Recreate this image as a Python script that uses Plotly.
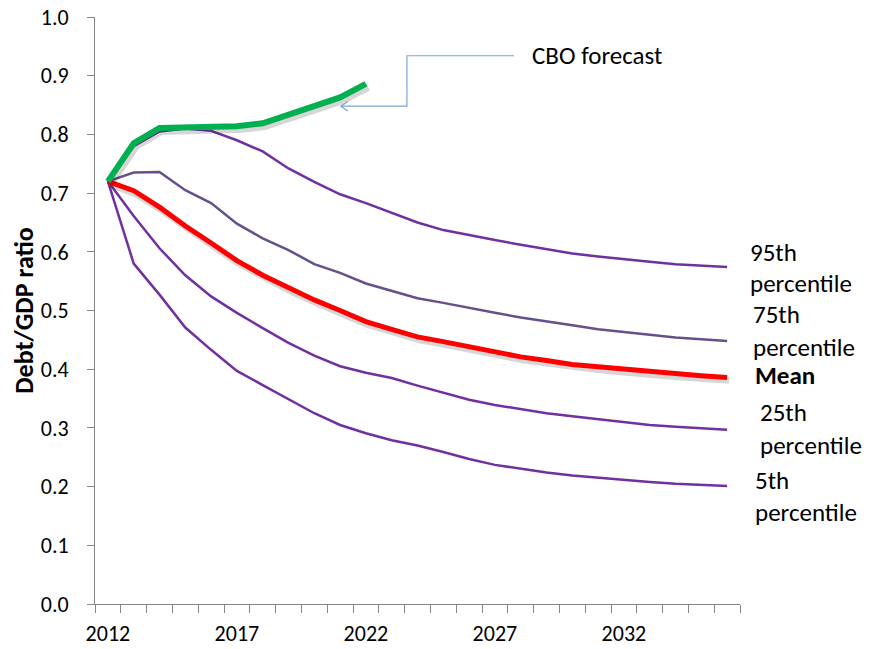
import plotly.graph_objects as go

years = list(range(2012, 2037))
label_years = [2012, 2017, 2022, 2027, 2032]

cbo_forecast = [0.720, 0.785, 0.811, 0.812, 0.812, 0.814, 0.819, 0.833, 0.847, 0.863, 0.886]
p95 = [0.720, 0.780, 0.805, 0.810, 0.806, 0.790, 0.771, 0.742, 0.719, 0.698, 0.683,
       0.667, 0.650, 0.637, 0.628, 0.620, 0.612, 0.604, 0.597, 0.592, 0.587, 0.583,
       0.579, 0.576, 0.574]
p75 = [0.720, 0.735, 0.736, 0.705, 0.683, 0.648, 0.623, 0.603, 0.579, 0.564, 0.546,
       0.533, 0.521, 0.513, 0.504, 0.496, 0.488, 0.482, 0.475, 0.468, 0.463, 0.458,
       0.454, 0.451, 0.448]
mean = [0.720, 0.704, 0.676, 0.644, 0.615, 0.585, 0.560, 0.538, 0.518, 0.500, 0.481,
        0.468, 0.455, 0.447, 0.438, 0.429, 0.421, 0.415, 0.408, 0.404, 0.400, 0.395,
        0.392, 0.389, 0.386]
p25 = [0.720, 0.661, 0.606, 0.560, 0.524, 0.496, 0.470, 0.445, 0.423, 0.405, 0.394,
       0.385, 0.372, 0.360, 0.348, 0.339, 0.332, 0.325, 0.320, 0.315, 0.310, 0.305,
       0.302, 0.299, 0.297]
p5 = [0.720, 0.580, 0.527, 0.471, 0.433, 0.397, 0.373, 0.349, 0.325, 0.305, 0.291,
      0.279, 0.270, 0.259, 0.247, 0.237, 0.230, 0.224, 0.219, 0.215, 0.211, 0.208,
      0.205, 0.203, 0.201]

# right-hand labels, one line each: (text, left pixel, centre pixel)
end_labels = [
    ("95th", 748, 252), ("percentile", 748, 283),
    ("75th", 751, 315), ("percentile", 751, 347),
    ("<b>Mean</b>", 753, 376),
    ("25th", 758, 412), ("percentile", 758, 445),
    ("5th", 753, 480), ("percentile", 753, 512),
]

FONT = "Carlito, Lato, sans-serif"
PURPLE = "#7030A0"
GREY_PURPLE = "#66508C"
SHADOW = "rgba(0,0,0,0.16)"

# the page body has an 8px margin, so the figure starts at (8, 8)
OFF = 8
PLOT_L, PLOT_R, PLOT_T, PLOT_B = 95, 740, 17, 604
W, H = 872 - OFF, 649 - OFF


def px_to_paper_x(px):
    return (px - PLOT_L) / (PLOT_R - PLOT_L)


def px_to_paper_y(py):
    return (PLOT_B - py) / (PLOT_B - PLOT_T)


fig = go.Figure()

for vals, color in [(p95, PURPLE), (p75, GREY_PURPLE), (p25, PURPLE), (p5, PURPLE)]:
    fig.add_trace(go.Scatter(x=years, y=vals, mode="lines",
                             line=dict(color=color, width=2.5), hoverinfo="skip"))

# soft drop shadows under the thick lines
fig.add_trace(go.Scatter(x=[y + 0.08 for y in years], y=[v - 0.005 for v in mean],
                         mode="lines", line=dict(color=SHADOW, width=7), hoverinfo="skip"))
fig.add_trace(go.Scatter(x=years, y=mean, mode="lines",
                         line=dict(color="#FF0000", width=5), name="Mean"))

cbo_years = years[:len(cbo_forecast)]
fig.add_trace(go.Scatter(x=[y + 0.08 for y in cbo_years], y=[v - 0.005 for v in cbo_forecast],
                         mode="lines", line=dict(color=SHADOW, width=8), hoverinfo="skip"))
fig.add_trace(go.Scatter(x=cbo_years, y=cbo_forecast, mode="lines",
                         line=dict(color="#00B050", width=6), name="CBO forecast"))

# callout connector for the CBO label
arrow_color = "#7EA3D6"
fig.add_shape(type="path", xref="x", yref="y",
              path="M 2027.74,0.934 L 2023.59,0.934 L 2023.59,0.848 L 2021.03,0.848",
              line=dict(color=arrow_color, width=1.2))
fig.add_shape(type="path", xref="x", yref="y",
              path="M 2021.30,0.856 L 2021.03,0.848 L 2021.30,0.840",
              line=dict(color=arrow_color, width=1.2))
fig.add_annotation(x=px_to_paper_x(530), y=px_to_paper_y(55), xref="paper", yref="paper",
                   text="CBO forecast", showarrow=False, xanchor="left", yanchor="middle",
                   font=dict(family=FONT, size=25, color="black"))

for text, lx, cy in end_labels:
    fig.add_annotation(x=px_to_paper_x(lx), y=px_to_paper_y(cy), xref="paper", yref="paper",
                       text=text, showarrow=False, xanchor="left", yanchor="middle",
                       align="left", font=dict(family=FONT, size=25, color="black"))

fig.update_layout(
    width=W, height=H,
    margin=dict(l=PLOT_L - OFF, r=872 - PLOT_R, t=PLOT_T - OFF, b=649 - PLOT_B),
    plot_bgcolor="white", paper_bgcolor="white",
    showlegend=False,
    font=dict(family=FONT, size=22, color="black"),
)
fig.update_xaxes(
    range=[2011.5, 2036.5], tickvals=label_years, ticks="", showgrid=False,
    zeroline=False, showline=True, linecolor="#868686", linewidth=1,
    tickfont=dict(family=FONT, size=22, color="black"),
    minor=dict(ticks="outside", tick0=2011.5, dtick=1, ticklen=8,
               tickcolor="#868686", showgrid=False),
    ticklabelstandoff=10, automargin=False, ticklabeloverflow="allow",
)
fig.update_yaxes(
    range=[0, 1], dtick=0.1, tickformat=".1f", ticks="outside", ticklen=7,
    tickcolor="#868686", showgrid=False, zeroline=False, showline=True,
    linecolor="#868686", linewidth=1, ticklabelstandoff=14,
    tickfont=dict(family=FONT, size=22, color="black"),
    title=dict(text="<b>Debt/GDP ratio</b>", font=dict(family=FONT, size=26, color="black"),
               standoff=0),
    automargin=False, ticklabeloverflow="allow",
)

fig.write_html("out.html")
